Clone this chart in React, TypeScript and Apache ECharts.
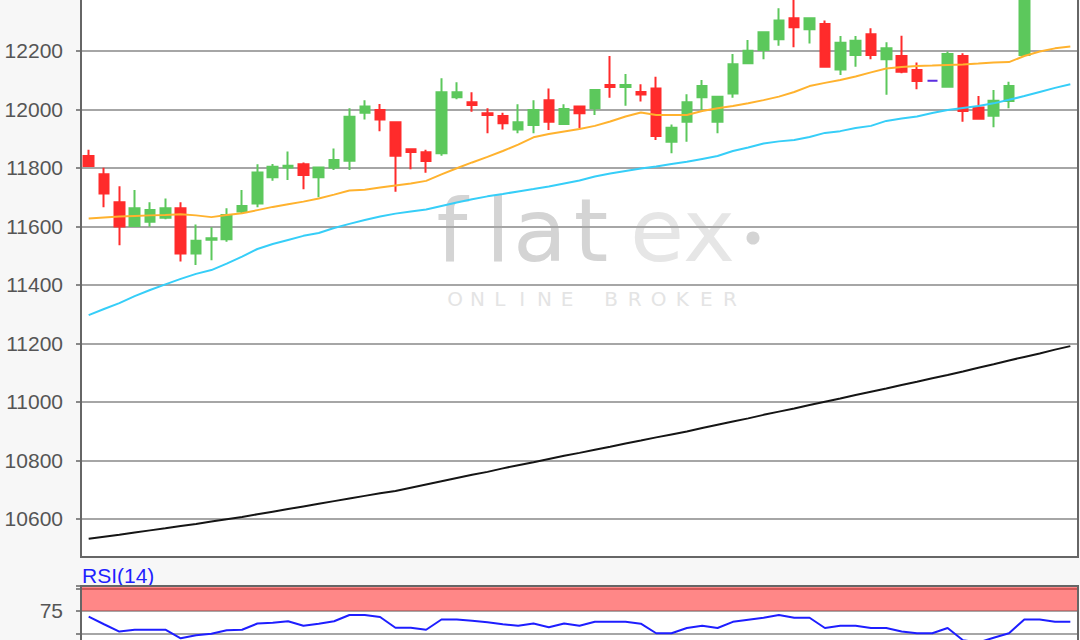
import React, { useEffect, useRef } from "react";
import * as echarts from "echarts";

// 65 trading-day slots (last three candles lie above the visible price range)
const categories: string[] = Array.from({ length: 65 }, (_, i) => `T${i + 1}`);

// [open, close, low, high]
const ohlc: number[][] = [
  [11841, 11807, 11803, 11862],
  [11779, 11713, 11666, 11801],
  [11683, 11600, 11536, 11738],
  [11602, 11662, 11600, 11725],
  [11616, 11656, 11599, 11683],
  [11630, 11662, 11625, 11696],
  [11662, 11508, 11480, 11683],
  [11508, 11551, 11468, 11607],
  [11555, 11560, 11485, 11597],
  [11556, 11639, 11548, 11662],
  [11651, 11670, 11643, 11725],
  [11679, 11785, 11666, 11813],
  [11768, 11804, 11756, 11814],
  [11802, 11808, 11759, 11856],
  [11813, 11776, 11727, 11819],
  [11768, 11802, 11700, 11805],
  [11802, 11827, 11793, 11867],
  [11825, 11975, 11793, 12004],
  [11989, 12010, 11966, 12032],
  [11998, 11966, 11926, 12019],
  [11956, 11842, 11719, 11958],
  [11864, 11855, 11796, 11867],
  [11854, 11824, 11784, 11862],
  [11850, 12059, 11842, 12107],
  [12042, 12059, 12035, 12093],
  [12025, 12015, 11992, 12059],
  [11987, 11981, 11919, 12004],
  [11978, 11953, 11932, 11989],
  [11932, 11956, 11919, 12018],
  [11947, 11998, 11919, 12032],
  [12032, 11958, 11930, 12072],
  [11950, 12002, 11947, 12018],
  [12010, 11987, 11936, 12012],
  [12004, 12067, 11981, 12067],
  [12084, 12077, 12040, 12183],
  [12077, 12084, 12013, 12121],
  [12060, 12051, 12027, 12086],
  [12072, 11909, 11896, 12112],
  [11890, 11938, 11850, 11949],
  [11958, 12025, 11890, 12052],
  [12042, 12080, 11998, 12101],
  [11958, 12044, 11919, 12046],
  [12055, 12155, 12040, 12190],
  [12158, 12201, 12156, 12238],
  [12203, 12264, 12172, 12266],
  [12240, 12304, 12218, 12346],
  [12312, 12281, 12213, 12374],
  [12274, 12312, 12226, 12314],
  [12292, 12146, 12143, 12304],
  [12137, 12228, 12118, 12251],
  [12186, 12235, 12146, 12251],
  [12257, 12186, 12172, 12278],
  [12172, 12209, 12050, 12230],
  [12183, 12129, 12124, 12252],
  [12135, 12097, 12069, 12161],
  [12098, 12098, 12098, 12098],
  [12078, 12190, 12075, 12198],
  [12183, 11995, 11958, 12192],
  [12007, 11968, 11968, 12046],
  [11979, 12030, 11939, 12067],
  [12029, 12080, 12004, 12095],
  [12186, 12420, 12186, 12440],
  [12410, 12450, 12400, 12470],
  [12450, 12430, 12405, 12480],
  [12430, 12460, 12410, 12490],
];

const maShort: number[] = [
  11627, 11631, 11634, 11636, 11638, 11639, 11642, 11638, 11632, 11639,
  11645, 11656, 11667, 11676, 11685, 11696, 11709, 11723, 11726, 11733,
  11740, 11747, 11756, 11778, 11799, 11819, 11838, 11858, 11880, 11905,
  11916, 11925, 11933, 11944, 11959, 11976, 11990, 11981, 11981, 11981,
  11995, 12004, 12012, 12021, 12032, 12044, 12060, 12080, 12091, 12101,
  12113, 12127, 12140, 12145, 12149, 12150, 12152, 12154, 12157, 12161,
  12162, 12183, 12198, 12209, 12215,
];

const maMid: number[] = [
  11297, 11318, 11338, 11362, 11383, 11402, 11421, 11438, 11451, 11473,
  11497, 11523, 11540, 11554, 11568, 11578, 11595, 11609, 11622, 11634,
  11644, 11651, 11658, 11670, 11682, 11693, 11703, 11711, 11720, 11728,
  11737, 11747, 11757, 11771, 11781, 11790, 11798, 11805, 11814, 11821,
  11831, 11841, 11858, 11870, 11884, 11891, 11896, 11906, 11920, 11926,
  11937, 11944, 11961, 11969, 11976, 11988, 11998, 12005, 12012, 12021,
  12033, 12046, 12060, 12074, 12086,
];

const maLong: number[] = [
  10532, 10539, 10546, 10554, 10561, 10568, 10576, 10583, 10591, 10599,
  10607, 10616, 10625, 10634, 10643, 10652, 10661, 10670, 10679, 10688,
  10696, 10707, 10718, 10729, 10740, 10751, 10761, 10773, 10784, 10794,
  10805, 10816, 10826, 10837, 10847, 10858, 10868, 10879, 10889, 10899,
  10911, 10922, 10933, 10944, 10956, 10967, 10978, 10990, 11001, 11012,
  11024, 11035, 11046, 11058, 11069, 11081, 11092, 11104, 11117, 11129,
  11142, 11154, 11166, 11179, 11191,
];

const rsi: number[] = [
  68.4, 60, 51.9, 53.9, 53.9, 53.9, 44.4, 47.8, 49.4, 53.3,
  53.9, 60.8, 61.6, 63.3, 58.4, 60.6, 63.3, 70.3, 70.3, 68,
  56.1, 56.1, 53.9, 65.3, 65.3, 63.9, 62.2, 60, 58.4, 60.8,
  56.7, 60.8, 58.4, 62.7, 62.7, 62.7, 60.6, 50, 50, 55.8,
  58.4, 55.8, 62.7, 65, 67.2, 70.3, 67.2, 67.2, 55.8, 58.4,
  58.4, 55.8, 55.8, 51.9, 50, 50, 55.8, 42.3, 39.7, 45,
  50, 65.3, 65.3, 62.7, 62.7,
];

const priceMin = 10470;
const priceMax = 12400;
const rsiZoneLow = 75;
const rsiMax = 102.5;

const FONT = "'Liberation Sans', Arial, sans-serif";
const LOGO_FONT = "'DejaVu Sans', sans-serif";

export default function App() {
  const ref = useRef<HTMLDivElement>(null);

  useEffect(() => {
    if (!ref.current) return;
    const chart = echarts.init(ref.current, undefined, { renderer: "svg" });

    const logoLetters = [
      { ch: "f", x: 452, c: "#d4d4d4" },
      { ch: "l", x: 498, c: "#d4d4d4" },
      { ch: "a", x: 540, c: "#d4d4d4" },
      { ch: "t", x: 591, c: "#d4d4d4" },
      { ch: "e", x: 657, c: "#e6e6e6" },
      { ch: "x", x: 709, c: "#e6e6e6" },
    ];
    const sub1 = "ONLINE".split("");
    const sub2 = "BROKER".split("");

    const graphics: any[] = [
      { type: "rect", z: -5, silent: true, shape: { x: 81, y: -10, width: 997, height: 567 }, style: { fill: "#ffffff" } },
      { type: "rect", z: -5, silent: true, shape: { x: 81, y: 586, width: 997, height: 100 }, style: { fill: "#ffffff" } },
      ...logoLetters.map((l) => ({
        type: "text",
        z: -4,
        silent: true,
        x: l.x,
        y: 230,
        style: { text: l.ch, fill: l.c, font: `88px ${LOGO_FONT}`, align: "center", verticalAlign: "middle" },
      })),
      { type: "circle", z: -4, silent: true, shape: { cx: 753, cy: 238, r: 6.5 }, style: { fill: "#d4d4d4" } },
      ...sub1.map((ch, i) => ({
        type: "text",
        z: -4,
        silent: true,
        x: 455 + i * 22.4,
        y: 299,
        style: { text: ch, fill: "#e4e4e4", font: `20px ${LOGO_FONT}`, align: "center", verticalAlign: "middle" },
      })),
      ...sub2.map((ch, i) => ({
        type: "text",
        z: -4,
        silent: true,
        x: 611 + i * 23.8,
        y: 299,
        style: { text: ch, fill: "#e4e4e4", font: `20px ${LOGO_FONT}`, align: "center", verticalAlign: "middle" },
      })),
      {
        type: "text",
        x: 82,
        y: 575.5,
        style: { text: "RSI(14)", fill: "#1f1fff", font: `21px ${FONT}`, align: "left", verticalAlign: "middle" },
      },
    ];

    const hiddenX = (gridIndex: number) => ({
      type: "category",
      data: categories,
      gridIndex,
      boundaryGap: true,
      axisLine: { show: false },
      axisTick: { show: false },
      axisLabel: { show: false },
      splitLine: { show: false },
    });

    chart.setOption({
      animation: false,
      backgroundColor: "#f7f7f7",
      graphic: graphics,
      grid: [
        {
          left: 81, top: -7.5, width: 997, height: 564.5,
          outerBoundsMode: "none", containLabel: false,
          show: true, borderColor: "#666", borderWidth: 2, backgroundColor: "transparent", z: 3,
        },
        {
          left: 81, top: 586, width: 997, height: 92.25,
          outerBoundsMode: "none", containLabel: false,
          show: true, borderColor: "#666", borderWidth: 2, backgroundColor: "transparent", z: 3,
        },
      ],
      xAxis: [hiddenX(0), hiddenX(1)],
      yAxis: [
        {
          type: "value",
          gridIndex: 0,
          min: priceMin,
          max: priceMax,
          splitNumber: 10,
          axisLine: { show: false },
          axisTick: { show: true, length: 5, lineStyle: { color: "#888", width: 2 } },
          axisLabel: {
            margin: 18, color: "#555", fontSize: 21, fontFamily: FONT, showMinLabel: false,
            formatter: (v: number) => String(v),
          },
          splitLine: { show: true, lineStyle: { color: "#a6a6a6", width: 2 } },
        },
        {
          type: "value",
          gridIndex: 1,
          min: 0,
          max: rsiMax,
          interval: 25,
          axisLine: { show: false },
          axisTick: { show: true, length: 5, lineStyle: { color: "#888", width: 2 } },
          axisLabel: {
            margin: 18,
            color: "#555",
            fontSize: 21,
            fontFamily: FONT,
            formatter: (v: number) => (v === 75 ? "75" : ""),
          },
          splitLine: { show: true, lineStyle: { color: "#a6a6a6", width: 2 } },
        },
      ],
      series: [
        {
          type: "candlestick",
          name: "Kurs",
          xAxisIndex: 0,
          yAxisIndex: 0,
          data: ohlc,
          barWidth: 10,
          clip: true,
          itemStyle: {
            color: "#5cc85c",
            color0: "#ff2b2b",
            borderColor: "#5cc85c",
            borderColor0: "#ff2b2b",
            borderColorDoji: "#5b2ee0",
            borderWidth: 2,
          },
          z: 2,
        },
        {
          type: "line",
          name: "GD kurz",
          xAxisIndex: 0,
          yAxisIndex: 0,
          data: maShort,
          showSymbol: false,
          lineStyle: { color: "#ffb22e", width: 2 },
          z: 4,
        },
        {
          type: "line",
          name: "GD mittel",
          xAxisIndex: 0,
          yAxisIndex: 0,
          data: maMid,
          showSymbol: false,
          lineStyle: { color: "#36cef8", width: 2 },
          z: 4,
        },
        {
          type: "line",
          name: "GD lang",
          xAxisIndex: 0,
          yAxisIndex: 0,
          data: maLong,
          showSymbol: false,
          lineStyle: { color: "#151515", width: 2 },
          z: 4,
        },
        {
          type: "line",
          name: "RSI(14)",
          xAxisIndex: 1,
          yAxisIndex: 1,
          data: rsi,
          showSymbol: false,
          lineStyle: { color: "#1e1eff", width: 2 },
          markArea: {
            silent: true,
            itemStyle: { color: "rgba(255,0,0,0.47)" },
            data: [[{ yAxis: rsiZoneLow }, { yAxis: rsiMax }]],
          },
          z: 4,
        },
      ],
    });

    return () => chart.dispose();
  }, []);

  return (
    <div
      ref={ref}
      style={{ position: "absolute", left: 0, top: 0, width: 1080, height: 640 }}
    />
  );
}
